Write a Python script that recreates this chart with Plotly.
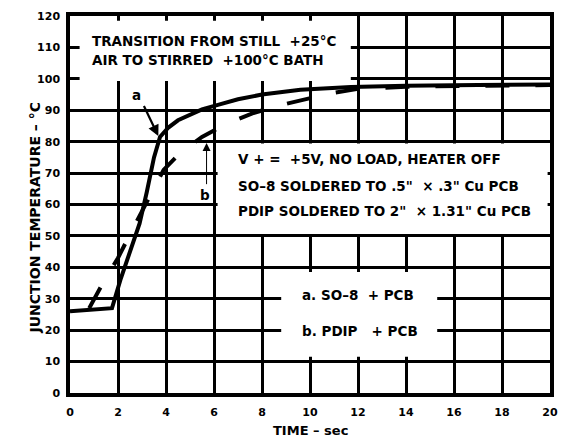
import plotly.graph_objects as go

# Curve a: SO-8 + PCB (solid)
time_a = [0, 0.8, 1.75, 2.1, 2.5, 2.9, 3.2, 3.5, 3.75, 4.1, 4.5, 5.0, 5.5, 6.2, 7.0, 8.0, 9.6, 11.7, 14, 17, 20]
temp_a = [26, 26.4, 27, 36, 45, 54, 64, 75, 81.5, 84.5, 86.8, 88.7, 90.3, 91.8, 93.5, 95, 96.5, 97.4, 97.8, 98, 98.2]

# Curve b: PDIP + PCB (dashed)
time_b = [0, 0.8, 1.3, 2.0, 2.6, 3.2, 3.9, 4.6, 5.5, 6.5, 7.6, 8.6, 9.7, 10.8, 12, 14, 17, 20]
temp_b = [26, 27, 34, 43, 52, 61, 71, 76.5, 81.5, 85.6, 89, 91.3, 93.3, 95.3, 96.8, 97.5, 97.8, 98]

x_ticks = [0, 2, 4, 6, 8, 10, 12, 14, 16, 18, 20]
y_ticks = [0, 10, 20, 30, 40, 50, 60, 70, 80, 90, 100, 110, 120]

NB = "\u00a0"
top_lines = ["TRANSITION FROM STILL" + NB * 2 + "+25°C", "AIR TO STIRRED" + NB * 2 + "+100°C BATH"]
cond_lines = ["V + =" + NB * 2 + "+5V, NO LOAD, HEATER OFF",
              "SO–8 SOLDERED TO .5\"" + NB * 2 + "× .3\" Cu PCB",
              "PDIP SOLDERED TO 2\"" + NB * 2 + "× 1.31\" Cu PCB"]
legend_lines = ["a. SO–8" + NB * 2 + "+ PCB", "b. PDIP" + NB * 3 + "+ PCB"]

FONT = "DejaVu Sans"

fig = go.Figure()
fig.add_trace(go.Scatter(x=time_a, y=temp_a, mode="lines",
                         line=dict(color="black", width=4), showlegend=False))
fig.add_trace(go.Scatter(x=time_b, y=temp_b, mode="lines",
                         line=dict(color="black", width=4, dash="0px,19px,24px,7px"), showlegend=False))

# white boxes hiding the grid behind the notes
boxes = [(0.4, 11.7, 99.3, 118.5), (6.15, 19.9, 50.6, 79.4), (8.8, 15.3, 11.5, 38.5)]
for x0, x1, y0, y1 in boxes:
    fig.add_shape(type="rect", xref="x", yref="y", x0=x0, x1=x1, y0=y0, y1=y1,
                  fillcolor="white", line=dict(width=0), layer="between")

bold = dict(family=FONT, size=13.5, color="black", weight="bold")
for i, t in enumerate(top_lines):
    fig.add_annotation(x=0.83, y=[111.9, 106.0][i], text=t, showarrow=False,
                       xanchor="left", yanchor="middle", font=bold)
for i, t in enumerate(cond_lines):
    fig.add_annotation(x=6.9, y=[74.6, 65.8, 58.0][i], text=t, showarrow=False,
                       xanchor="left", yanchor="middle", font=bold)
for i, t in enumerate(legend_lines):
    fig.add_annotation(x=9.58, y=[31.3, 19.7][i], text=t, showarrow=False,
                       xanchor="left", yanchor="middle", font=bold)

# curve labels with arrows
fig.add_annotation(x=2.78, y=95, text="a", showarrow=False, font=bold)
fig.add_annotation(x=3.68, y=81.8, ax=3.05, ay=91.8, axref="x", ayref="y", xref="x", yref="y",
                   text="", showarrow=True, arrowhead=2, arrowsize=1, arrowwidth=2.2,
                   arrowcolor="black", standoff=0, startstandoff=0)
fig.add_annotation(x=5.63, y=63.1, text="b", showarrow=False, font=bold)
fig.add_annotation(x=5.69, y=79.6, ax=5.69, ay=66, axref="x", ayref="y", xref="x", yref="y",
                   text="", showarrow=True, arrowhead=2, arrowsize=1.6, arrowwidth=1,
                   arrowcolor="black", standoff=0, startstandoff=0)

# axis titles
fig.add_annotation(xref="paper", yref="paper", x=0, y=0.5, xshift=-46, yshift=-13,
                   text="JUNCTION TEMPERATURE – °C", textangle=-90, showarrow=False,
                   font=dict(family=FONT, size=14, color="black", weight="bold"))
fig.add_annotation(xref="paper", yref="paper", x=0.5, y=0, yshift=-37,
                   text="TIME – sec", showarrow=False, yanchor="middle",
                   font=dict(family=FONT, size=13, color="black", weight="bold"))

axis_common = dict(showgrid=True, gridcolor="black", gridwidth=2.5, zeroline=False,
                   showline=True, linecolor="black", linewidth=3.5, mirror=True,
                   ticks="", ticklabeloverflow="allow",
                   tickfont=dict(family=FONT, size=11, color="black", weight="bold"))
fig.update_xaxes(range=[0, 20], tickvals=x_ticks, ticktext=[str(v) for v in x_ticks],
                 ticklabelstandoff=6, **axis_common)
fig.update_yaxes(range=[0, 120], tickvals=y_ticks, ticktext=[str(v) for v in y_ticks],
                 ticklabelstandoff=4, **axis_common)

# the page body adds an 8px offset, so the figure is sized to fit inside the window
fig.update_layout(width=561, height=433, margin=dict(l=62, r=19, t=2, b=48),
                  plot_bgcolor="white", paper_bgcolor="white", showlegend=False)

fig.write_html("out.html")
